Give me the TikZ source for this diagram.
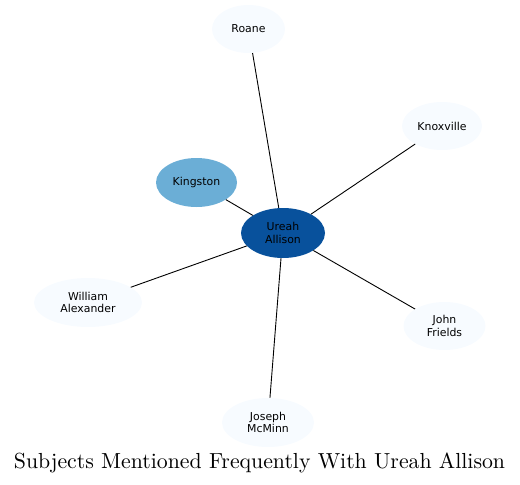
\documentclass[tikz,border=0pt]{standalone}
\usepackage{fontspec}
\newfontfamily\nodefont{DejaVu Sans}
\usepackage{xcolor}
\usetikzlibrary{shapes.geometric}
\definecolor{paleblue}{HTML}{F7FBFF}
\definecolor{midblue}{HTML}{6BAED6}
\definecolor{deepblue}{HTML}{08519C}

\begin{document}
\begin{tikzpicture}[x=1pt, y=-1pt,
    subject/.style={ellipse, fill=paleblue, inner sep=0pt, align=center,
        font=\nodefont\fontsize{10.9}{12.3}\selectfont},
    link/.style={line width=0.9pt}]
    \useasboundingbox (0,0) rectangle (520,485);
    % 1. Các nút
    \node[subject, fill=deepblue, minimum width=84pt, minimum height=50pt] (ureah) at (283,233) {Ureah\\Allison};
    \node[subject, fill=midblue, minimum width=81pt, minimum height=49pt] (kingston) at (196.5,182.5) {Kingston};
    \node[subject, minimum width=73pt, minimum height=48pt] (roane) at (248.5,29) {Roane};
    \node[subject, minimum width=80pt, minimum height=48pt] (knoxville) at (442,126) {Knoxville};
    \node[subject, minimum width=108pt, minimum height=49pt] (william) at (88,302.5) {William\\Alexander};
    \node[subject, minimum width=82pt, minimum height=48pt] (john) at (444.5,326) {John\\Frields};
    \node[subject, minimum width=92pt, minimum height=49pt] (joseph) at (268,422.5) {Joseph\\McMinn};
    
    % 2. Các cạnh
    \foreach \other in {kingston, roane, knoxville, william, john, joseph} {
        \draw[link] (ureah) -- (\other);
    }
    
    % 3. Tiêu đề
    \node[scale=2.18] (title) at (259.5,463) {Subjects Mentioned Frequently With Ureah Allison};
\end{tikzpicture}
\end{document}
